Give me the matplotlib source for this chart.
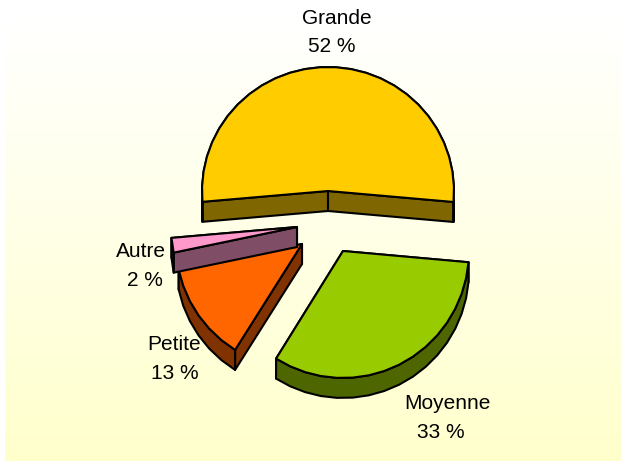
import numpy as np
import matplotlib
matplotlib.use('Agg')
import matplotlib.pyplot as plt
from matplotlib.patches import Polygon

plt.rcParams['font.family'] = ['Liberation Sans', 'DejaVu Sans']

# slices, clockwise from the left end of Grande
categories = ['Grande', 'Moyenne', 'Petite', 'Autre']
values = [52.8, 32.5, 12.8, 1.9]
value_labels = ['52 %', '33 %', '13 %', '2 %']
top_colors = ['#FFCC00', '#99CC00', '#FF6600', '#FF99CC']
wall_colors = ['#806600', '#4D6600', '#803300', '#804D66']

# exploded position of each slice tip, in pixels
tips = [(328, 191), (343, 251), (302, 244), (297, 227)]
radius_y = [124, 127, 125, 125]
label_pos = [(337, 19), (447, 403), (174, 344), (141, 251)]
value_pos = [(332, 46), (441, 432), (175, 373), (145, 280)]

start_angle = 185
radius_x = 126
depth = 20
edge = 1.5
arc_step = 7  # degrees, the outline is a coarse polyline

fig = plt.figure(figsize=(6.26, 4.65), dpi=100)
ax = fig.add_axes([0, 0, 1, 1])
ax.set_xlim(0, 626)
ax.set_ylim(465, 0)
ax.axis('off')

# background gradient, white at the top to pale yellow at the bottom
grad = np.linspace(0, 1, 256).reshape(-1, 1, 1)
c0 = np.array([1.0, 1.0, 1.0]).reshape(1, 1, 3)
c1 = np.array([1.0, 1.0, 0.80]).reshape(1, 1, 3)
ax.imshow(c0 + (c1 - c0) * grad, extent=(5, 621, 461, 20), aspect='auto', zorder=0)
ax.set_xlim(0, 626)
ax.set_ylim(465, 0)


def arc_points(tip, a1, a2, ry):
    n = max(2, int(abs(a1 - a2) / arc_step) + 1)
    t = np.radians(np.linspace(a1, a2, n))
    return np.column_stack([tip[0] + radius_x * np.cos(t), tip[1] - ry * np.sin(t)])


spans = np.array(values) / sum(values) * 360
ends = start_angle - np.cumsum(spans)
starts = ends + spans

z = 1
for i in range(len(values)):
    tip = np.array(tips[i], dtype=float)
    pts = arc_points(tip, starts[i], ends[i], radius_y[i])
    down = np.array([0, depth])
    # flat cut faces, the upper one first so the lower one covers it
    faces = sorted([pts[0], pts[-1]], key=lambda p: p[1])
    for p in faces:
        ax.add_patch(Polygon([tip, p, p + down, tip + down], closed=True, fc=wall_colors[i],
                             ec='black', lw=edge, joinstyle='round', zorder=z))
    # outer wall
    ax.add_patch(Polygon(np.vstack([pts, (pts + down)[::-1]]), closed=True, fc=wall_colors[i],
                         ec='black', lw=edge, joinstyle='round', zorder=z + 1))
    # top face
    ax.add_patch(Polygon(np.vstack([tip, pts]), closed=True, fc=top_colors[i],
                         ec='black', lw=edge, joinstyle='round', zorder=z + 2))
    z += 3

for name, val, lp, vp in zip(categories, value_labels, label_pos, value_pos):
    ax.text(lp[0], lp[1], name, fontsize=15, color='black', ha='center', va='center', zorder=50)
    ax.text(vp[0], vp[1], val, fontsize=15, color='black', ha='center', va='center', zorder=50)

fig.savefig('out.png', dpi=100, facecolor='white')
